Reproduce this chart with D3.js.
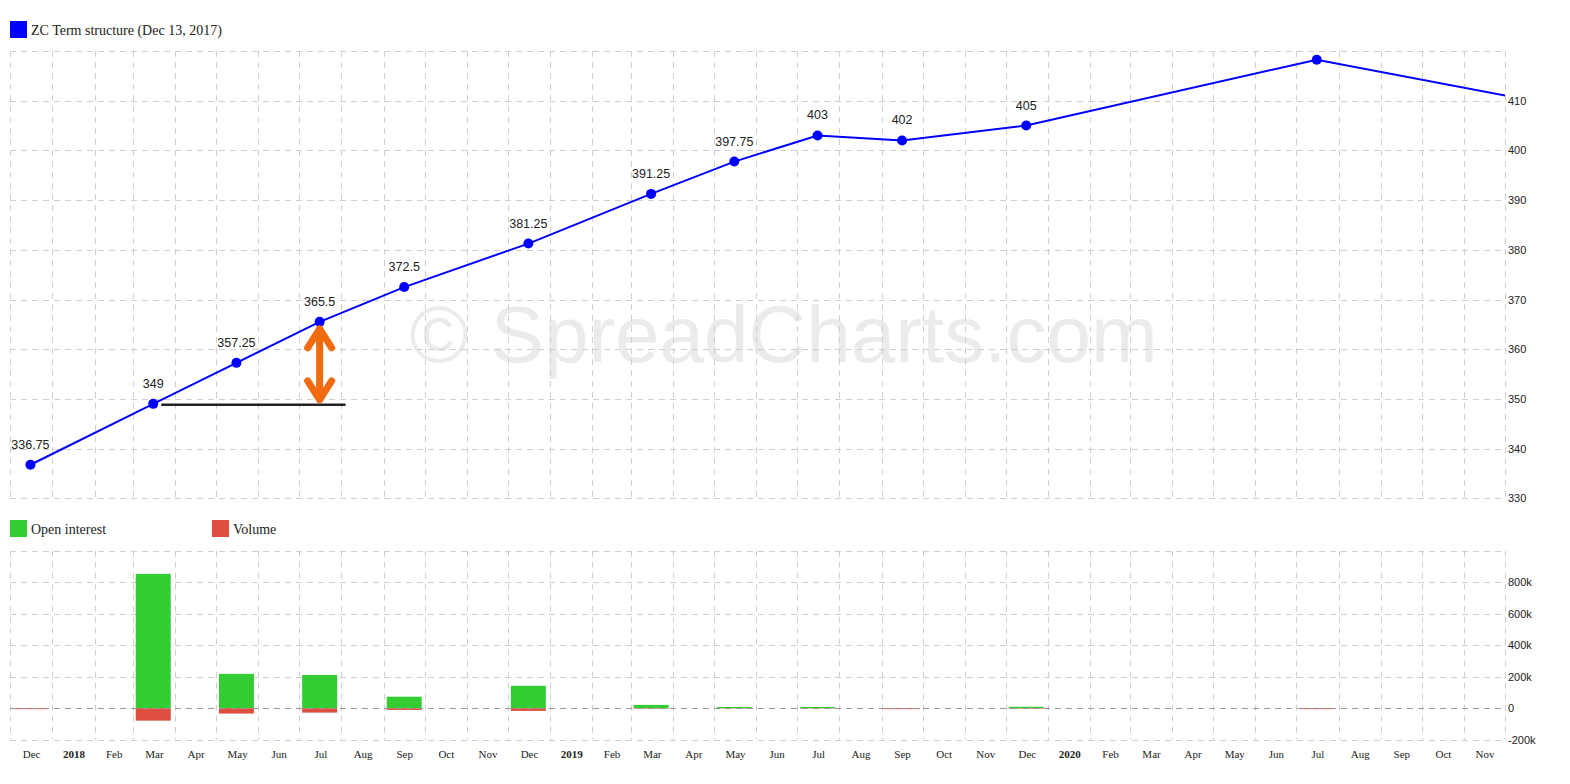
<!DOCTYPE html>
<html><head><meta charset="utf-8">
<script src="https://cdn.jsdelivr.net/npm/d3@7"></script>
<style>
html,body{margin:0;padding:0;background:#fff;}
svg{display:block;}
</style></head>
<body>
<script>
// ---- data ----
const contracts = ['2017-12','2018-03','2018-05','2018-07','2018-09','2018-12','2019-03','2019-05','2019-07','2019-09','2019-12','2020-07','2020-12'];
const prices = [336.75,349,357.25,365.5,372.5,381.25,391.25,397.75,403,402,405,418.25,410.25];
const openInterest = [1000,853000,218000,211000,73000,142000,21000,8000,8000,1000,9000,1000,0];
const volume = [6000,79000,34000,28000,11000,17000,3000,2000,2000,6000,3000,6000,0];
const priceTicks = [330,340,350,360,370,380,390,400,410];
const oiTicks = [-200000,0,200000,400000,600000,800000];
const monthNames = ['Jan','Feb','Mar','Apr','May','Jun','Jul','Aug','Sep','Oct','Nov','Dec'];
const seriesName = 'ZC Term structure (Dec 13, 2017)';
const legend2 = ['Open interest','Volume'];
const watermark = '\u00A9 SpreadCharts.com';
const spreadFrom = '2018-03', spreadTo = '2018-07';

// ---- layout ----
const W = 1570, H = 784;
const L = 10, R = 1505;
const top1 = 51, bot1 = 498.3;
const top2 = 550.7, bot2 = 739.7;
const blue = '#0000ff', green = '#33cc33', red = '#dd4e3e', orange = '#f06a0f';

const svg = d3.select('body').append('svg').attr('width', W).attr('height', H);

const parse = d3.utcParse('%Y-%m');
const midDate = s => { const d = parse(s); return d3.utcDay.offset(d, 15); };

const x = d3.scaleUtc().domain([d3.utcParse('%Y-%m-%d')('2017-12-01'), d3.utcParse('%Y-%m-%d')('2020-12-01')]).range([L, R]);
const y1 = d3.scaleLinear().domain([330, 420]).range([bot1, top1]);
const y2 = d3.scaleLinear().domain([-200000, 1000000]).range([bot2, top2]);

const monthStarts = d3.utcMonth.range(x.domain()[0], d3.utcMonth.offset(x.domain()[1], 1));

// watermark
svg.append('text').attr('x', (L + R) / 2 + 26).attr('y', 362)
  .attr('text-anchor', 'middle').attr('font-family', 'Liberation Sans, Arial, sans-serif')
  .attr('font-size', 80).attr('fill', '#ebebeb').text(watermark);

const gridColor = '#cfcfcf', dash = '6,5';
// grids top
const g1 = svg.append('g');
g1.selectAll('line.v').data(monthStarts).join('line')
  .attr('x1', d => Math.round(x(d)) + 0.5).attr('x2', d => Math.round(x(d)) + 0.5)
  .attr('y1', top1).attr('y2', bot1).attr('stroke', gridColor).attr('stroke-dasharray', dash);
g1.selectAll('line.h').data(d3.range(330, 421, 10)).join('line')
  .attr('x1', L).attr('x2', R).attr('y1', d => Math.round(y1(d)) + 0.5).attr('y2', d => Math.round(y1(d)) + 0.5)
  .attr('stroke', gridColor).attr('stroke-dasharray', dash);
// grids bottom
const g2 = svg.append('g');
g2.selectAll('line.v').data(monthStarts).join('line')
  .attr('x1', d => Math.round(x(d)) + 0.5).attr('x2', d => Math.round(x(d)) + 0.5)
  .attr('y1', top2).attr('y2', bot2).attr('stroke', gridColor).attr('stroke-dasharray', dash);
g2.selectAll('line.h').data(d3.range(-200000, 1000001, 200000).filter(v => v !== 0)).join('line')
  .attr('x1', L).attr('x2', R).attr('y1', d => Math.round(y2(d)) + 0.5).attr('y2', d => Math.round(y2(d)) + 0.5)
  .attr('stroke', gridColor).attr('stroke-dasharray', dash);

// legends
svg.append('rect').attr('x', 10).attr('y', 21).attr('width', 17).attr('height', 17).attr('fill', blue);
svg.append('text').attr('x', 31).attr('y', 35).attr('font-family', 'Liberation Serif, serif').attr('font-size', 14).attr('fill', '#222').text(seriesName);
[[10, green], [212, red]].forEach((p, i) => {
  svg.append('rect').attr('x', p[0]).attr('y', 520).attr('width', 17).attr('height', 17).attr('fill', p[1]);
  svg.append('text').attr('x', p[0] + 21).attr('y', 534).attr('font-family', 'Liberation Serif, serif').attr('font-size', 14).attr('fill', '#222').text(legend2[i]);
});

// line chart
svg.append('clipPath').attr('id', 'clip1').append('rect').attr('x', L).attr('y', top1 - 10).attr('width', R - L).attr('height', bot1 - top1 + 10);
const pts = contracts.map((c, i) => ({ d: midDate(c), v: prices[i], c }));
const plot1 = svg.append('g').attr('clip-path', 'url(#clip1)');
plot1.append('path').datum(pts)
  .attr('d', d3.line().x(d => x(d.d)).y(d => y1(d.v)))
  .attr('fill', 'none').attr('stroke', blue).attr('stroke-width', 2);
plot1.selectAll('circle').data(pts).join('circle')
  .attr('cx', d => x(d.d)).attr('cy', d => y1(d.v)).attr('r', 5).attr('fill', blue);
plot1.selectAll('text.lbl').data(pts.filter(p => y1(p.v) - 28 > top1)).join('text')
  .attr('x', d => x(d.d)).attr('y', d => y1(d.v) - 16).attr('text-anchor', 'middle')
  .attr('font-family', 'Liberation Sans, Arial, sans-serif').attr('font-size', 12.5).attr('fill', '#222')
  .text(d => d.v);

// annotation: horizontal reference + arrow
const pFrom = pts.find(p => p.c === spreadFrom), pTo = pts.find(p => p.c === spreadTo);
svg.append('line').attr('x1', x(pFrom.d) + 8).attr('x2', x(d3.utcDay.offset(pTo.d, 19)))
  .attr('y1', y1(pFrom.v) + 1).attr('y2', y1(pFrom.v) + 1).attr('stroke', '#222').attr('stroke-width', 2.5);
const ax = x(pTo.d), ayTop = y1(pTo.v) + 7, ayBot = y1(pFrom.v) - 4;
const ap = d3.path();
ap.moveTo(ax, ayTop); ap.lineTo(ax, ayBot);
ap.moveTo(ax - 12, ayTop + 19); ap.lineTo(ax, ayTop); ap.lineTo(ax + 12, ayTop + 19);
ap.moveTo(ax - 12, ayBot - 19); ap.lineTo(ax, ayBot); ap.lineTo(ax + 12, ayBot - 19);
svg.append('path').attr('d', ap.toString()).attr('fill', 'none').attr('stroke', orange)
  .attr('stroke-width', 7).attr('stroke-linecap', 'round').attr('stroke-linejoin', 'round');

// bars
const bw = 35;
const bars = contracts.map((c, i) => ({ d: midDate(c), oi: openInterest[i], vol: volume[i] }));
svg.append('clipPath').attr('id', 'clip2').append('rect').attr('x', L).attr('y', top2).attr('width', R - L).attr('height', bot2 - top2);
const plot2 = svg.append('g').attr('clip-path', 'url(#clip2)');
plot2.selectAll('rect.oi').data(bars).join('rect')
  .attr('x', d => x(d.d) - bw / 2).attr('width', bw)
  .attr('y', d => y2(d.oi)).attr('height', d => y2(0) - y2(d.oi)).attr('fill', green);
plot2.selectAll('rect.vol').data(bars).join('rect')
  .attr('x', d => x(d.d) - bw / 2).attr('width', bw)
  .attr('y', y2(0)).attr('height', d => y2(-d.vol) - y2(0)).attr('fill', red);
// zero line
svg.append('line').attr('x1', L).attr('x2', R).attr('y1', Math.round(y2(0)) + 0.5).attr('y2', Math.round(y2(0)) + 0.5)
  .attr('stroke', '#999').attr('stroke-dasharray', dash);

// right axes
const fmtK = v => v === 0 ? '0' : (v / 1000) + 'k';
const ax1 = svg.append('g').attr('transform', `translate(${R},0)`)
  .call(d3.axisRight(y1).tickValues(priceTicks).tickSize(0).tickPadding(3));
const ax2 = svg.append('g').attr('transform', `translate(${R},0)`)
  .call(d3.axisRight(y2).tickValues(oiTicks).tickSize(0).tickPadding(3).tickFormat(fmtK));
[ax1, ax2].forEach(a => {
  a.select('.domain').remove();
  a.selectAll('text').attr('font-family', 'Liberation Sans, Arial, sans-serif').attr('font-size', 11).attr('fill', '#222');
});

// bottom month axis
const mids = monthStarts.slice(0, -1).map(d => new Date((+d + +d3.utcMonth.offset(d, 1)) / 2));
const axB = svg.append('g').attr('transform', `translate(0,${bot2 + 3})`)
  .call(d3.axisBottom(x).tickValues(mids).tickSize(0).tickPadding(8)
    .tickFormat(d => d.getUTCMonth() === 0 ? String(d.getUTCFullYear()) : monthNames[d.getUTCMonth()]));
axB.select('.domain').remove();
axB.selectAll('text').attr('font-family', 'Liberation Serif, serif').attr('font-size', 11).attr('fill', '#222')
  .attr('font-weight', d => d.getUTCMonth() === 0 ? 'bold' : 'normal');
</script>
</body></html>
